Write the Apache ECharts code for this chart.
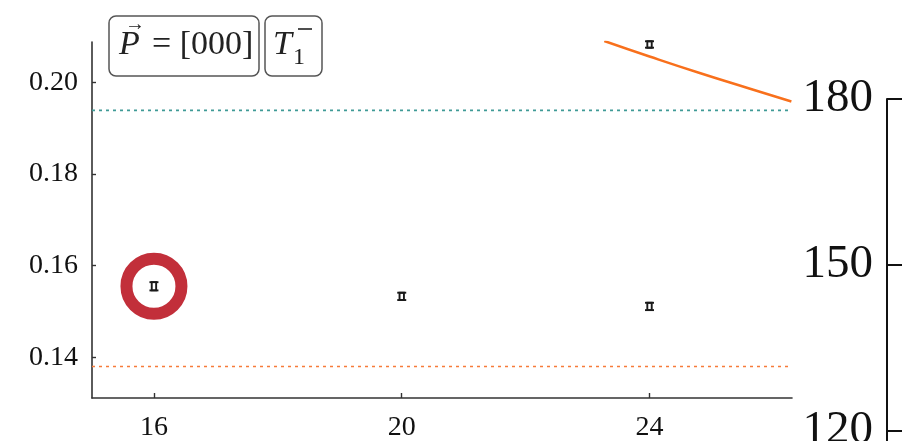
<!DOCTYPE html>
<html><head><meta charset="utf-8">
<script src="https://cdn.jsdelivr.net/npm/echarts@6/dist/echarts.min.js"></script>
<style>html,body{margin:0;padding:0;background:#fff}#c{width:902px;height:441px}</style>
</head><body><div id="c"></div>
<script>
// Energy levels vs lattice size L (irrep T1-, P = [000])
const latticeL = [16, 20, 24, 24];
const energyVals = [0.1555, 0.1533, 0.1511, 0.2083];
const energyErr = [0.0009, 0.0008, 0.0008, 0.0007];
const xTicks = [16, 20, 24];
const yTicks = [0.14, 0.16, 0.18, 0.20];
// threshold lines
const upperThreshold = 0.1939;
const lowerThreshold = 0.138;
// non-interacting level curve
const curveX = [23.27, 24.0, 24.81, 25.61, 26.29];
const curveY = [0.20906, 0.20568, 0.20207, 0.19869, 0.19585];
// highlighted level
const highlightIndex = 0;
// neighbouring panel axis
const rightTicks = [120, 150, 180];

const X_MIN = 15, X_MAX = 26.3, Y_MIN = 0.13111, Y_MAX = 0.20884;
const SERIF = '"Liberation Serif", "DejaVu Serif", serif';

const points = latticeL.map((l, i) => [l, energyVals[i], energyErr[i]]);
const curve = curveX.map((x, i) => [x, curveY[i]]);

const chart = echarts.init(document.getElementById('c'), null, {renderer: 'canvas'});

function errRender(params, api) {
  const x = api.value(0), y = api.value(1), e = api.value(2);
  const t = api.coord([x, y + e]), b = api.coord([x, y - e]);
  const hw = 4.5, s = {stroke: '#1a1a1a', lineWidth: 1.9, fill: 'none'};
  return {type: 'group', children: [
    {type: 'line', shape: {x1: t[0] - hw, y1: t[1], x2: t[0] + hw, y2: t[1]}, style: s},
    {type: 'line', shape: {x1: b[0] - hw, y1: b[1], x2: b[0] + hw, y2: b[1]}, style: s},
    {type: 'rect', shape: {x: t[0] - 2.2, y: t[1], width: 4.4, height: b[1] - t[1]}, style: s}
  ]};
}

chart.setOption({
  animation: false,
  backgroundColor: '#fff',
  grid: [
    {left: 92, right: 110, top: 42, bottom: 43, outerBoundsMode: 'none', containLabel: false},
    {left: 887, right: -200, top: 99, bottom: 0, outerBoundsMode: 'none', containLabel: false}
  ],
  xAxis: [
    {type: 'value', gridIndex: 0, min: X_MIN, max: X_MAX,
     axisLine: {lineStyle: {color: '#333', width: 1.6}},
     axisTick: {inside: true, length: 5, customValues: xTicks, lineStyle: {color: '#333', width: 1.4}},
     axisLabel: {customValues: xTicks, margin: 16, fontFamily: SERIF, fontSize: 28, color: '#111'},
     splitLine: {show: false}},
    {type: 'value', gridIndex: 1, show: false, min: 0, max: 1}
  ],
  yAxis: [
    {type: 'value', gridIndex: 0, min: Y_MIN, max: Y_MAX,
     axisLine: {show: true, lineStyle: {color: '#333', width: 1.6}},
     axisTick: {show: true, inside: true, length: 4, customValues: yTicks, lineStyle: {color: '#333', width: 1.4}},
     axisLabel: {customValues: yTicks, margin: 14, fontFamily: SERIF, fontSize: 28, color: '#111',
                 formatter: v => v.toFixed(2)},
     splitLine: {show: false}},
    {type: 'value', gridIndex: 1, min: 118.2, max: 180,
     axisLine: {show: true, lineStyle: {color: '#111', width: 2}},
     axisTick: {show: true, inside: true, length: 16, customValues: rightTicks, lineStyle: {color: '#111', width: 2}},
     axisLabel: {customValues: rightTicks, margin: 14, fontFamily: SERIF, fontSize: 47, color: '#111'},
     splitLine: {show: false}}
  ],
  series: [
    {type: 'line', xAxisIndex: 0, yAxisIndex: 0, data: [[X_MIN, upperThreshold], [X_MAX, upperThreshold]],
     symbol: 'none', lineStyle: {color: '#3f9a96', width: 1.6, type: [3, 4]}, silent: true},
    {type: 'line', xAxisIndex: 0, yAxisIndex: 0, data: [[X_MIN, lowerThreshold], [X_MAX, lowerThreshold]],
     symbol: 'none', lineStyle: {color: '#f77b3a', width: 1.6, type: [3, 4]}, silent: true},
    {type: 'line', xAxisIndex: 0, yAxisIndex: 0, data: curve, smooth: true, clip: true,
     symbol: 'none', lineStyle: {color: '#f8701c', width: 2.5}, silent: true},
    {type: 'custom', xAxisIndex: 0, yAxisIndex: 0, data: points, renderItem: errRender, silent: true},
    {type: 'scatter', xAxisIndex: 0, yAxisIndex: 0,
     data: [[latticeL[highlightIndex], energyVals[highlightIndex]]],
     symbol: 'circle', symbolSize: 55,
     itemStyle: {color: 'rgba(0,0,0,0)', borderColor: '#c22f3a', borderWidth: 12, opacity: 1}, silent: true}
  ],
  graphic: [
    {type: 'rect', shape: {x: 109, y: 16, width: 150, height: 60, r: 7},
     style: {fill: '#fff', stroke: '#555', lineWidth: 1.5}, z: 10},
    {type: 'rect', shape: {x: 265, y: 16, width: 57, height: 60, r: 7},
     style: {fill: '#fff', stroke: '#555', lineWidth: 1.5}, z: 10},
    {type: 'text', x: 119, y: 45, z: 11,
     style: {text: 'P', font: 'italic 34px ' + SERIF, fill: '#222', verticalAlign: 'middle'}},
    {type: 'text', x: 125, y: 25, z: 11,
     style: {text: '→', font: '20px ' + SERIF, fill: '#222', verticalAlign: 'middle'}},
    {type: 'text', x: 152, y: 45, z: 11,
     style: {text: '= [000]', font: '34px ' + SERIF, fill: '#222', verticalAlign: 'middle'}},
    {type: 'text', x: 273, y: 45, z: 11,
     style: {text: 'T', font: 'italic 34px ' + SERIF, fill: '#222', verticalAlign: 'middle'}},
    {type: 'text', x: 293, y: 58, z: 11,
     style: {text: '1', font: '24px ' + SERIF, fill: '#222', verticalAlign: 'middle'}},
    {type: 'line', shape: {x1: 298, y1: 29, x2: 312, y2: 29}, z: 11,
     style: {stroke: '#222', lineWidth: 1.6}}
  ]
});
</script>
</body></html>
